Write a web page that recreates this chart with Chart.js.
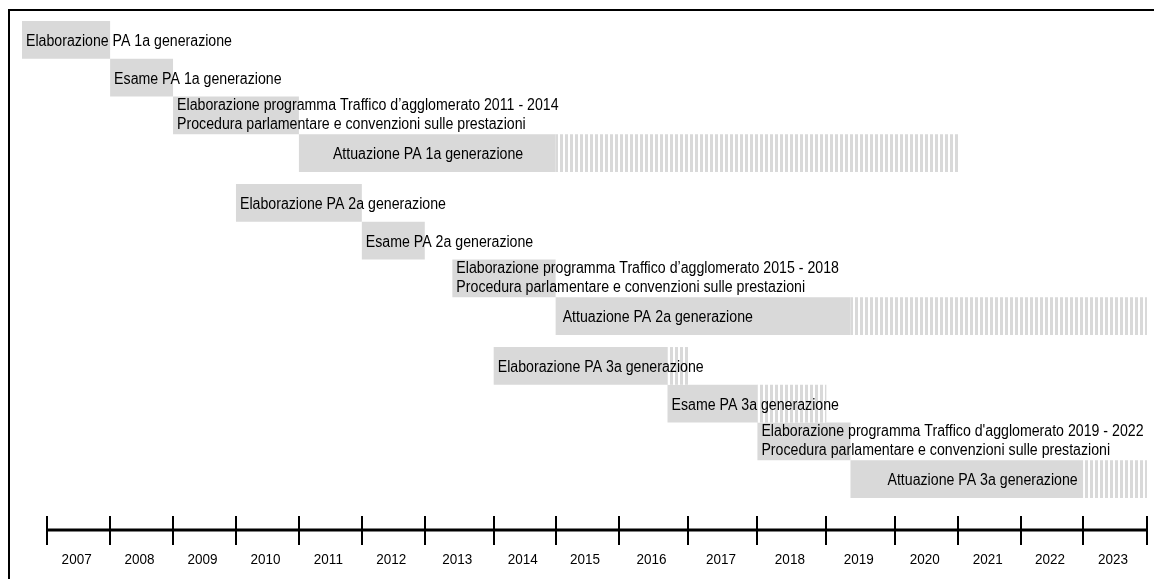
<!DOCTYPE html>
<html>
<head>
<meta charset="utf-8">
<script src="https://cdn.jsdelivr.net/npm/chart.js@4.4.1/dist/chart.umd.min.js"></script>
<style>
  html, body { margin: 0; padding: 0; background: #ffffff; }
  #wrap { width: 1154px; height: 579px; position: relative; overflow: hidden; }
  canvas { display: block; }
</style>
</head>
<body>
<div id="wrap"><canvas id="chart" width="1154" height="579"></canvas></div>
<script>
// ---------------- DATA ----------------
const generations = ['PA 1a generazione', 'PA 2a generazione', 'PA 3a generazione'];
const years = [2007, 2008, 2009, 2010, 2011, 2012, 2013, 2014, 2015, 2016, 2017, 2018, 2019, 2020, 2021, 2022, 2023];

// phase periods as [start, end] in years (fractional = part of the year)
const elaborazionePA            = [[2006.6, 2008], [2010, 2012], [2014, 2016.7]];
const elaborazionePAEstensione  = [null, null, [2016.7, 2017]];
const esamePA                   = [[2008, 2009], [2012, 2013], [2016.7, 2018]];
const esamePAEstensione         = [null, null, [2018, 2019]];
const programmaTraffico         = [[2009, 2011], [2013.4, 2015], [2018, 2019.35]];
const attuazionePA              = [[2011, 2015], [2015, 2019.35], [2019.35, 2023]];
const attuazionePAEstensione    = [[2015, 2021], [2019.35, 2024], [2023, 2024]];

const labelsElaborazione = ['Elaborazione PA 1a generazione', 'Elaborazione PA 2a generazione', 'Elaborazione PA 3a generazione'];
const labelsEsame        = ['Esame PA 1a generazione', 'Esame PA 2a generazione', 'Esame PA 3a generazione'];
const labelsProgramma    = [
  ['Elaborazione programma Traffico d\u2019agglomerato 2011 - 2014', 'Procedura parlamentare e convenzioni sulle prestazioni'],
  ['Elaborazione programma Traffico d\u2019agglomerato 2015 - 2018', 'Procedura parlamentare e convenzioni sulle prestazioni'],
  ['Elaborazione programma Traffico d\'agglomerato 2019 - 2022', 'Procedura parlamentare e convenzioni sulle prestazioni']
];
const labelsAttuazione   = ['Attuazione PA 1a generazione', 'Attuazione PA 2a generazione', 'Attuazione PA 3a generazione'];

// ---------------- STYLE ----------------
const BAR_GREY = '#d9d9d9';
const FONT_FAMILY = '"Liberation Sans", Arial, Helvetica, sans-serif';
// relative widths of the year columns on the original timeline (they are not all equal)
const yearColumnWidths = [63, 63, 63, 63, 63, 63, 69, 62, 63, 70, 69, 69, 69, 63, 63, 62, 64];
const attuazioneLabelInset = [34, 7, 37];

function colUnits(v) {
  const y0 = years[0];
  const w = yearColumnWidths;
  if (v <= y0) return (v - y0) * w[0];
  let u = 0;
  for (let i = 0; i < w.length; i++) {
    if (v <= y0 + i + 1) return u + (v - (y0 + i)) * w[i];
    u += w[i];
  }
  return u + (v - (y0 + w.length)) * w[w.length - 1];
}
function unitsToValue(u) {
  const y0 = years[0];
  const w = yearColumnWidths;
  if (u <= 0) return y0 + u / w[0];
  let acc = 0;
  for (let i = 0; i < w.length; i++) {
    if (u <= acc + w[i]) return y0 + i + (u - acc) / w[i];
    acc += w[i];
  }
  return y0 + w.length + (u - acc) / w[w.length - 1];
}

class TimelineScale extends Chart.LinearScale {
  static id = 'timeline';
  static defaults = {};
  getPixelForValue(value) {
    if (value === null || value === undefined || isNaN(value)) return NaN;
    const a = colUnits(this.min), b = colUnits(this.max);
    return this.getPixelForDecimal((colUnits(value) - a) / (b - a));
  }
  getValueForPixel(pixel) {
    const a = colUnits(this.min), b = colUnits(this.max);
    return unitsToValue(a + this.getDecimalForPixel(pixel) * (b - a));
  }
}
Chart.register(TimelineScale);

function makeStripes() {
  const c = document.createElement('canvas');
  c.width = 5; c.height = 4;
  const g = c.getContext('2d');
  g.fillStyle = '#ffffff'; g.fillRect(0, 0, 5, 4);
  g.fillStyle = BAR_GREY; g.fillRect(0, 0, 3, 4);
  return document.getElementById('chart').getContext('2d').createPattern(c, 'repeat');
}
const stripes = makeStripes();

function drawCondensed(ctx, text, x, y, size, sx, align) {
  ctx.save();
  ctx.translate(x, y);
  ctx.scale(sx, 1);
  ctx.font = size + 'px ' + FONT_FAMILY;
  ctx.textAlign = align || 'left';
  ctx.textBaseline = 'alphabetic';
  ctx.fillStyle = '#000000';
  ctx.fillText(text, 0, 0);
  ctx.restore();
}

const framePlugin = {
  id: 'frame',
  beforeDraw(chart) {
    const ctx = chart.ctx;
    ctx.save();
    ctx.fillStyle = '#ffffff';
    ctx.fillRect(0, 0, chart.width, chart.height);
    ctx.fillStyle = '#000000';
    ctx.fillRect(8, 9, 2, chart.height);
    ctx.fillRect(8, 9, chart.width, 2);
    ctx.restore();
  }
};

const barLabelPlugin = {
  id: 'barLabels',
  afterDatasetsDraw(chart) {
    const ctx = chart.ctx;
    chart.data.datasets.forEach((ds, di) => {
      if (!ds.barLabels) return;
      const meta = chart.getDatasetMeta(di);
      meta.data.forEach((bar, i) => {
        const lbl = ds.barLabels[i];
        if (!lbl || ds.data[i] == null) return;
        const start = Math.min(bar.x, bar.base);
        const inset = Array.isArray(ds.labelInset) ? ds.labelInset[i] : ds.labelInset;
        const x = start + inset;
        if (Array.isArray(lbl)) {
          drawCondensed(ctx, lbl[0], x, bar.y - 5, 16, 0.885);
          drawCondensed(ctx, lbl[1], x, bar.y + 13.5, 16, 0.885);
        } else {
          drawCondensed(ctx, lbl, x, bar.y + 6.3, 16, 0.885);
        }
      });
    });
  }
};

const timeAxisPlugin = {
  id: 'timeAxis',
  afterDraw(chart) {
    const ctx = chart.ctx;
    const xs = chart.scales.x;
    const first = years[0], last = years[years.length - 1] + 1;
    const axisY = 530;
    ctx.save();
    ctx.fillStyle = '#000000';
    const x0 = xs.getPixelForValue(first), x1 = xs.getPixelForValue(last);
    ctx.fillRect(x0, axisY - 1.5, x1 - x0, 3);
    for (let y = first; y <= last; y++) {
      const px = Math.round(xs.getPixelForValue(y));
      ctx.fillRect(px - 1, 516, 2, 29);
    }
    years.forEach((yr) => {
      const cx = xs.getPixelForValue(yr + 0.5);
      drawCondensed(ctx, String(yr), cx - 2, 564, 15, 0.9, 'center');
    });
    ctx.restore();
  }
};

const common = { borderWidth: 0, borderSkipped: false, categoryPercentage: 0.926, barPercentage: 1.0 };

new Chart(document.getElementById('chart'), {
  type: 'bar',
  data: {
    labels: generations,
    datasets: [
      Object.assign({ label: 'Elaborazione PA', data: elaborazionePA, backgroundColor: BAR_GREY, stack: 's1', barLabels: labelsElaborazione, labelInset: 4 }, common),
      Object.assign({ label: 'Elaborazione PA (estensione)', data: elaborazionePAEstensione, backgroundColor: stripes, stack: 's1' }, common),
      Object.assign({ label: 'Esame PA', data: esamePA, backgroundColor: BAR_GREY, stack: 's2', barLabels: labelsEsame, labelInset: 4 }, common),
      Object.assign({ label: 'Esame PA (estensione)', data: esamePAEstensione, backgroundColor: stripes, stack: 's2' }, common),
      Object.assign({ label: 'Programma Traffico d\u2019agglomerato', data: programmaTraffico, backgroundColor: BAR_GREY, stack: 's3', barLabels: labelsProgramma, labelInset: 4 }, common),
      Object.assign({ label: 'Attuazione PA', data: attuazionePA, backgroundColor: BAR_GREY, stack: 's4', barLabels: labelsAttuazione, labelInset: attuazioneLabelInset }, common),
      Object.assign({ label: 'Attuazione PA (estensione)', data: attuazionePAEstensione, backgroundColor: stripes, stack: 's4' }, common)
    ]
  },
  options: {
    indexAxis: 'y',
    responsive: false,
    animation: false,
    events: [],
    devicePixelRatio: 1,
    layout: { padding: { left: 22, right: 7, top: 15, bottom: 75 } },
    plugins: { legend: { display: false }, tooltip: { enabled: false }, title: { display: false } },
    scales: {
      x: { type: 'timeline', min: 2006.6, max: 2024, stacked: false, display: false, grid: { display: false } },
      y: { type: 'category', display: false, grid: { display: false } }
    }
  },
  plugins: [framePlugin, barLabelPlugin, timeAxisPlugin]
});
</script>
</body>
</html>
